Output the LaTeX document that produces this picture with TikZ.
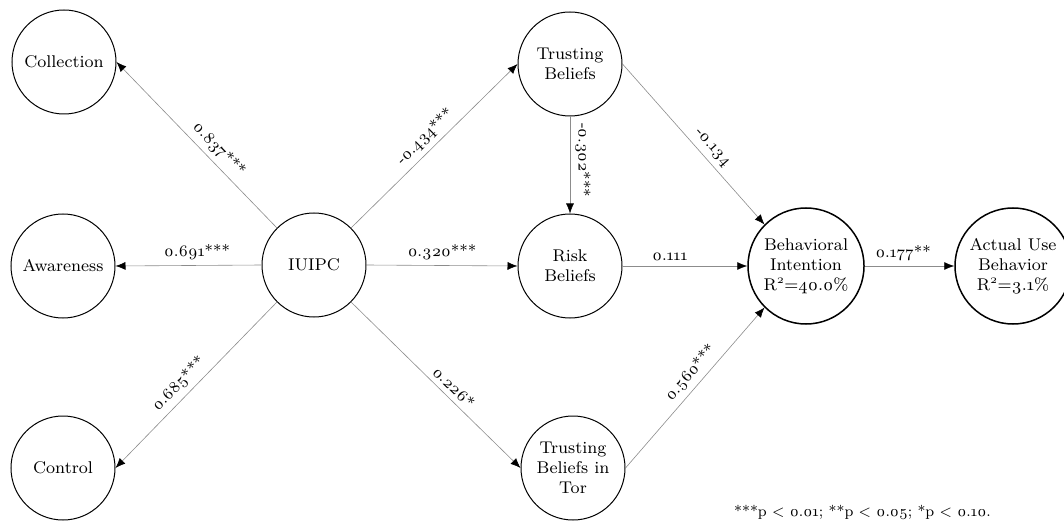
\documentclass[tikz,border=0pt]{standalone}
\usepackage{fontspec}
\setmainfont{lmroman8-regular}[Extension=.otf,Numbers=OldStyle]
\usetikzlibrary{arrows.meta}
\begin{document}
\begin{tikzpicture}[x=1pt,y=-1pt,
  lv/.style={circle,draw=black,line width=1pt,minimum size=104pt,inner sep=0pt,align=center,font=\fontsize{17}{20}\selectfont},
  lvb/.style={lv,line width=1.5pt,minimum size=116pt},
  conn/.style={draw=black!45,line width=0.6pt,-{Latex[length=10pt,width=8pt,color=black]}},
  coef/.style={font=\fontsize{16}{18}\selectfont,sloped,above=4pt,inner sep=1pt}
]
\useasboundingbox (0,0) rectangle (1064,521);
\node[lv] (coll) at (64,62) {Collection};
\node[lv] (aw) at (63,266) {Awareness};
\node[lv] (ctrl) at (63,468) {Control};
\node[lv] (iu) at (314,265) {IUIPC};
\node[lv] (tb) at (570,64) {Trusting\\Beliefs};
\node[lv] (rb) at (570,266) {Risk\\Beliefs};
\node[lv] (tt) at (573,468) {Trusting\\Beliefs in\\Tor};
\node[lvb] (bi) at (806,266) {Behavioral\\Intention\\R\textsuperscript{2}=40.0\%};
\node[lvb] (au) at (1013,266) {Actual Use\\Behavior\\R\textsuperscript{2}=3.1\%};

\draw[conn] (iu.north west) -- node[coef,pos=0.42]{0.837***} (coll.east);
\draw[conn] (iu.west) -- node[coef,pos=0.44]{0.691***} (aw.east);
\draw[conn] (iu.south west) -- node[coef,pos=0.55]{0.685***} (ctrl.east);
\draw[conn] (iu.north east) -- node[coef,pos=0.5]{-0.434***} (tb.west);
\draw[conn] (iu.east) -- node[coef,pos=0.5]{0.320***} (rb.west);
\draw[conn] (iu.south east) -- node[coef,pos=0.56]{0.226*} (tt.west);
\draw[conn] (tb.south) -- node[coef,pos=0.45]{-0.302***} (rb.north);
\draw[conn] (tb.east) -- node[coef,pos=0.57]{-0.134} (bi.north west);
\draw[conn] (rb.east) -- node[coef,pos=0.38]{0.111} (bi.west);
\draw[conn] (tt.east) -- node[coef,pos=0.54]{0.560***} (bi.south west);
\draw[conn] (bi.east) -- node[coef,pos=0.43]{0.177**} (au.west);

\node[anchor=east,inner sep=0pt,font=\fontsize{15}{17}\selectfont] (note) at (991,512) {***p < 0.01; **p < 0.05; *p < 0.10.};
\end{tikzpicture}
\end{document}
